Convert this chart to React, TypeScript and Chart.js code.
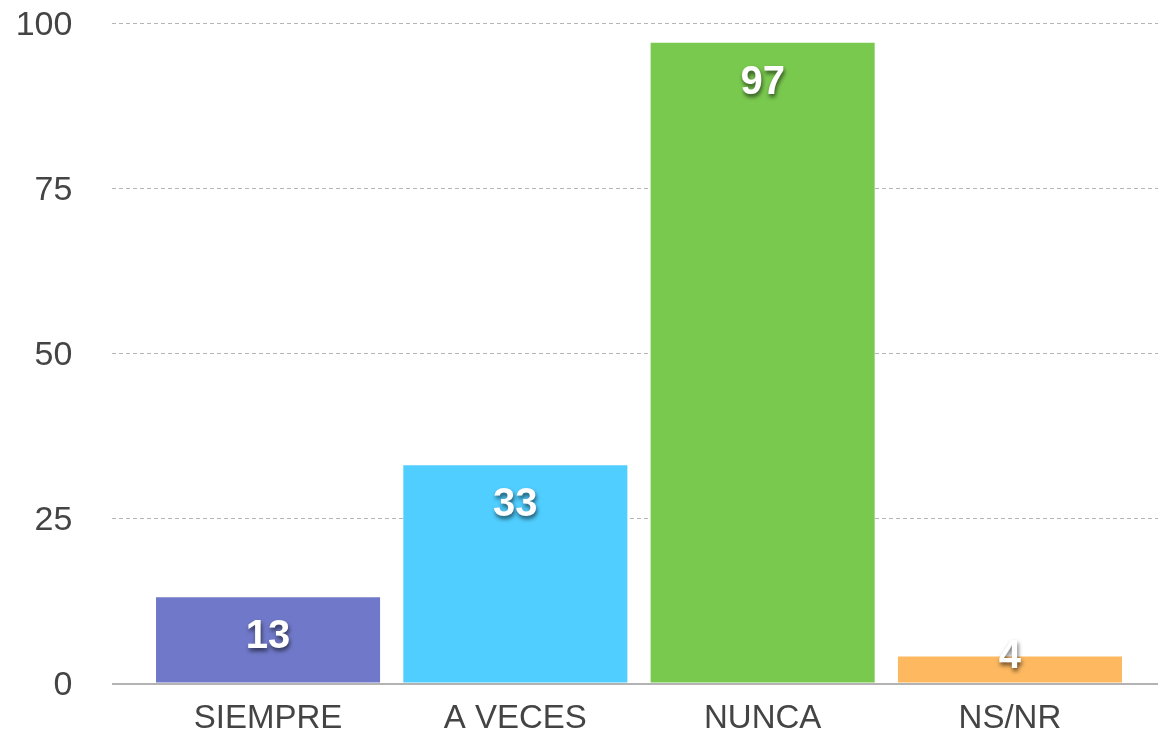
import React, { useEffect, useRef } from "react";
import { Chart, registerables } from "chart.js";

Chart.register(...registerables);

const categories = ["SIEMPRE", "A VECES", "NUNCA", "NS/NR"];
const values = [13, 33, 97, 4];
const barColors = ["#7079C9", "#50CEFF", "#7AC94F", "#FDB860"];
const yTicks = [0, 25, 50, 75, 100];

const FONT = "'Liberation Sans', Arial, Helvetica, sans-serif";

const gridPlugin = {
  id: "customGrid",
  beforeDatasetsDraw(chart: any) {
    const { ctx, scales } = chart;
    const y = scales.y;
    ctx.save();
    ctx.strokeStyle = "#b5b5b5";
    ctx.lineWidth = 1;
    ctx.setLineDash([4, 3]);
    yTicks.forEach((v) => {
      if (v === 0) return;
      const py = Math.round(y.getPixelForValue(v)) + 0.5;
      ctx.beginPath();
      ctx.moveTo(112, py);
      ctx.lineTo(chart.width, py);
      ctx.stroke();
    });
    ctx.restore();
  },
  afterDatasetsDraw(chart: any) {
    const { ctx, scales } = chart;
    const y = scales.y;
    ctx.save();
    const py0 = y.getPixelForValue(0);
    ctx.strokeStyle = "#b3b3b3";
    ctx.lineWidth = 2;
    ctx.beginPath();
    ctx.moveTo(112, py0 + 1);
    ctx.lineTo(chart.width, py0 + 1);
    ctx.stroke();

    const meta = chart.getDatasetMeta(0);
    ctx.font = `bold 40px ${FONT}`;
    ctx.textAlign = "center";
    ctx.textBaseline = "alphabetic";
    meta.data.forEach((bar: any, i: number) => {
      const baseline = Math.min(bar.y + 51, bar.base - 15);
      ctx.save();
      ctx.shadowColor = "rgba(0,0,0,0.6)";
      ctx.shadowOffsetX = 1;
      ctx.shadowOffsetY = 3;
      ctx.shadowBlur = 4;
      ctx.fillStyle = "#ffffff";
      ctx.fillText(String(values[i]), bar.x, baseline);
      ctx.restore();
    });
    ctx.restore();
  },
};

export default function App() {
  const ref = useRef<HTMLCanvasElement | null>(null);
  useEffect(() => {
    if (!ref.current) return;
    const chart = new Chart(ref.current, {
      type: "bar",
      data: {
        labels: categories,
        datasets: [
          {
            data: values,
            backgroundColor: barColors,
            borderWidth: 0,
            barPercentage: 0.906,
            categoryPercentage: 1,
          },
        ],
      },
      options: {
        responsive: false,
        animation: false,
        layout: { padding: { top: 23, right: 24.4, left: 0, bottom: 0 } },
        plugins: {
          legend: { display: false },
          tooltip: { enabled: false },
        },
        scales: {
          x: {
            grid: { display: false, drawTicks: false },
            border: { display: false },
            ticks: {
              color: "#444",
              font: { family: FONT, size: 33 },
              padding: 16,
              maxRotation: 0,
            },
            afterFit(scale: any) {
              scale.height = 54;
            },
          },
          y: {
            min: 0,
            max: 100,
            grid: {
              display: true,
              color: "rgba(0,0,0,0)",
              drawOnChartArea: false,
              drawTicks: true,
              tickLength: 72,
            },
            border: { display: false },
            ticks: {
              stepSize: 25,
              color: "#444",
              font: { family: FONT, size: 34 },
              padding: 0,
              labelOffset: 3,
            },
            afterFit(scale: any) {
              scale.width = 144.4;
            },
          },
        },
      },
      plugins: [gridPlugin],
    });
    return () => chart.destroy();
  }, []);
  return (
    <div style={{ position: "fixed", left: 0, top: 0, width: 1158, height: 737, background: "#fff" }}>
      <canvas ref={ref} width={1158} height={737} />
    </div>
  );
}
